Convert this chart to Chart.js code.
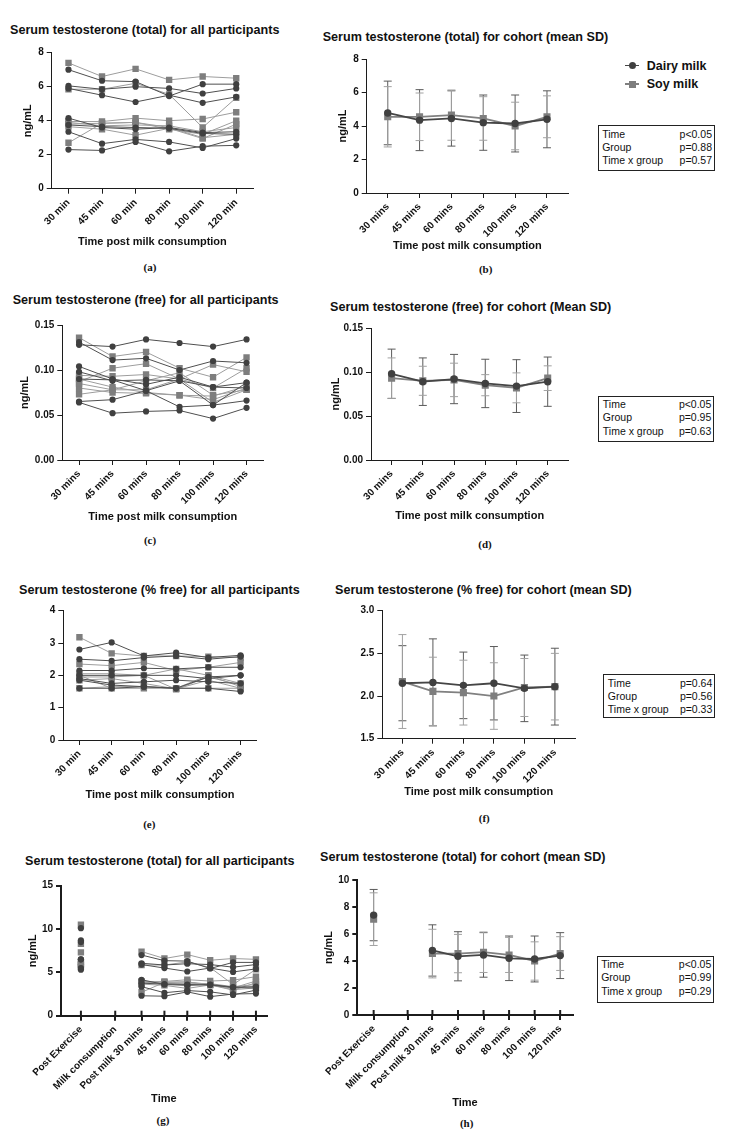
<!DOCTYPE html>
<html>
<head>
<meta charset="utf-8">
<script src="https://cdn.jsdelivr.net/npm/chart.js@4.4.0/dist/chart.umd.min.js"></script>
<style>
  body { margin: 0; background: #fff; }
  #page { position: relative; width: 750px; height: 1135px; overflow: hidden;
          font-family: 'Liberation Sans', Arial, sans-serif; color: #111; }
  #page canvas { position: absolute; }
  .title { position: absolute; font-weight: bold; font-size: 12.6px; line-height: 16px; white-space: nowrap; }
  .cap { position: absolute; width: 40px; margin-left: -20px; text-align: center;
         font-family: 'Liberation Serif', 'Times New Roman', serif; font-weight: bold; font-size: 11px; line-height: 14px; }
  .stats { position: absolute; box-sizing: border-box; border: 1.5px solid #222; padding: 1.5px 2px 0 3.5px; font-size: 10.5px; }
  .stats div { display: flex; justify-content: space-between; line-height: 13.3px; white-space: nowrap; }
  .legText { position: absolute; left: 646.7px; font-weight: bold; font-size: 12.5px; line-height: 16px; }
  .legLine { position: absolute; left: 625px; width: 14.3px; height: 1.6px; }
  .legMark { position: absolute; }
</style>
</head>
<body>
<div id="page"></div>

<script>
// ============================================
// Serum testosterone after dairy / soy milk
// ============================================

// ---------- Tick labels ----------
const labelsMin = ['30 min', '45 min', '60 min', '80 min', '100 min', '120 min'];
const labelsMins = ['30 mins', '45 mins', '60 mins', '80 mins', '100 mins', '120 mins'];
const labelsMixed = ['30 min', '45 min', '60 min', '80 min', '100 mins', '120 mins'];
const labelsFull = ['Post Exercise', 'Milk consumption', 'Post milk 30 mins', '45 mins', '60 mins', '80 mins', '100 mins', '120 mins'];

// x positions of the categories (the last two panels are unevenly spaced)
const posSix = [0, 1, 2, 3, 4, 5];
const posFullG = [0, 1.5, 2.65, 3.65, 4.65, 5.65, 6.65, 7.65];
const posFullH = [0, 1.33, 2.3, 3.3, 4.3, 5.3, 6.3, 7.3];

// ---------- Total testosterone, each participant (ng/mL) ----------
const totalDairy = [
  [7.0, 6.35, 6.3, 5.45, 6.15, 6.15],
  [6.05, 5.85, 6.0, 5.9, 5.6, 5.9],
  [5.9, 5.5, 5.1, 5.5, 5.05, 5.4],
  [4.15, 3.6, 3.5, 3.6, 3.3, 3.35],
  [3.75, 3.65, 3.6, 3.55, 3.25, 3.2],
  [3.35, 2.65, 2.9, 2.75, 2.4, 2.95],
  [2.3, 2.25, 2.75, 2.2, 2.5, 2.55]
];
const totalSoy = [
  [7.4, 6.6, 7.05, 6.4, 6.6, 6.5],
  [5.85, 5.85, 6.2, 5.55, 3.6, 5.35],
  [3.95, 3.95, 4.15, 4.0, 4.1, 4.5],
  [3.9, 3.7, 3.75, 3.7, 3.35, 3.6],
  [3.8, 3.85, 3.9, 3.5, 3.2, 4.0],
  [3.65, 3.5, 3.15, 3.55, 2.95, 3.8],
  [2.7, 3.85, 3.9, 3.6, 3.0, 3.2]
];
const postExDairy = [10.1, 8.7, 8.5, 6.5, 6.5, 5.5, 5.3];
const postExSoy = [10.5, 8.3, 7.3, 6.2, 5.85, 5.6, 6.0];

// ---------- Total testosterone, cohort mean / SD ----------
const totalMeanDairy = [4.78, 4.35, 4.45, 4.2, 4.15, 4.4];
const totalSdDairy = [1.9, 1.82, 1.65, 1.65, 1.7, 1.7];
const totalMeanSoy = [4.55, 4.55, 4.65, 4.45, 4.0, 4.55];
const totalSdSoy = [1.8, 1.42, 1.5, 1.3, 1.42, 1.25];
const postExMean = [7.4, 7.1];   // dairy, soy
const postExSd = [1.9, 1.95];

// ---------- Free testosterone (ng/mL) ----------
const freeDairy = [
  [0.128, 0.126, 0.134, 0.130, 0.126, 0.134],
  [0.131, 0.111, 0.113, 0.100, 0.110, 0.108],
  [0.104, 0.090, 0.084, 0.092, 0.081, 0.086],
  [0.098, 0.088, 0.089, 0.088, 0.081, 0.080],
  [0.090, 0.089, 0.077, 0.059, 0.061, 0.086],
  [0.065, 0.067, 0.077, 0.088, 0.061, 0.066],
  [0.064, 0.052, 0.054, 0.055, 0.046, 0.058]
];
const freeSoy = [
  [0.136, 0.115, 0.120, 0.102, 0.092, 0.114],
  [0.087, 0.102, 0.107, 0.090, 0.106, 0.098],
  [0.094, 0.093, 0.095, 0.090, 0.080, 0.102],
  [0.090, 0.081, 0.075, 0.072, 0.071, 0.082],
  [0.085, 0.078, 0.078, 0.090, 0.064, 0.078],
  [0.080, 0.075, 0.074, 0.072, 0.067, 0.080],
  [0.073, 0.078, 0.088, 0.097, 0.072, 0.078]
];
const freeMeanDairy = [0.098, 0.089, 0.092, 0.087, 0.084, 0.089];
const freeSdDairy = [0.028, 0.027, 0.028, 0.0275, 0.030, 0.028];
const freeMeanSoy = [0.093, 0.090, 0.091, 0.085, 0.082, 0.093];
const freeSdSoy = [0.023, 0.0165, 0.019, 0.012, 0.017, 0.014];

// ---------- % free testosterone ----------
const pctDairy = [
  [2.8, 3.02, 2.6, 2.7, 2.55, 2.62],
  [2.5, 2.45, 2.55, 2.6, 2.5, 2.58],
  [2.15, 2.15, 2.22, 2.2, 2.25, 2.25],
  [2.0, 2.0, 2.0, 2.0, 1.9, 2.0],
  [1.9, 1.75, 1.8, 1.85, 1.8, 1.75],
  [1.85, 1.7, 1.65, 1.6, 1.6, 1.5],
  [1.6, 1.6, 1.65, 1.6, 1.95, 2.0]
];
const pctSoy = [
  [3.18, 2.68, 2.6, 2.6, 2.58, 2.55],
  [2.35, 2.3, 2.4, 2.15, 2.25, 2.4],
  [2.05, 2.05, 2.0, 2.2, 2.0, 1.75],
  [1.95, 1.95, 2.0, 1.57, 1.95, 1.7],
  [2.0, 1.6, 1.6, 1.6, 2.0, 1.65],
  [1.85, 1.9, 1.75, 1.58, 1.85, 1.6],
  [1.6, 1.65, 1.65, 1.6, 1.6, 1.6]
];
const pctMeanDairy = [2.15, 2.16, 2.125, 2.15, 2.09, 2.11];
const pctSdDairy = [0.44, 0.51, 0.39, 0.43, 0.39, 0.45];
const pctMeanSoy = [2.17, 2.055, 2.04, 2.0, 2.1, 2.11];
const pctSdSoy = [0.55, 0.40, 0.38, 0.39, 0.34, 0.39];

// ---------- Statistics boxes ----------
const statsB = [['Time', 'p<0.05'], ['Group', 'p=0.88'], ['Time x group', 'p=0.57']];
const statsD = [['Time', 'p<0.05'], ['Group', 'p=0.95'], ['Time x group', 'p=0.63']];
const statsF = [['Time', 'p=0.64'], ['Group', 'p=0.56'], ['Time x group', 'p=0.33']];
const statsH = [['Time', 'p<0.05'], ['Group', 'p=0.99'], ['Time x group', 'p=0.29']];

// ---------- Styles ----------
Chart.defaults.font.family = "'Liberation Sans', Arial, sans-serif";
Chart.defaults.color = '#111';
const INK = '#1c1c1c';
const DAIRY = { shape: 'circle', fill: '#404040', line: '#4f4f4f', mean: '#454545', bar: '#5a5a5a', r: 3.1, rMean: 3.7 };
const SOY = { shape: 'rect', fill: '#7e7e7e', line: '#9d9d9d', mean: '#808080', bar: '#a2a2a2', r: 4.5, rMean: 5.0 };

// ---------- Dataset helpers ----------
function participantSets(rows, pos, st) {
  return rows.map(row => ({
    data: row.map((v, i) => ({ x: pos[i], y: v })),
    borderColor: st.line,
    borderWidth: 1,
    pointStyle: st.shape,
    pointRadius: st.r,
    pointBackgroundColor: st.fill,
    pointBorderWidth: 0,
    spanGaps: false
  }));
}

function meanSet(means, sds, pos, st) {
  return {
    data: means.map((v, i) => ({ x: pos[i], y: v })),
    sd: sds,
    barColor: st.bar,
    borderColor: st.mean,
    borderWidth: 1.8,
    pointStyle: st.shape,
    pointRadius: st.rMean,
    pointBackgroundColor: st.fill,
    pointBorderWidth: 0,
    spanGaps: false
  };
}

// ---------- Plugins ----------
const errorBars = {
  id: 'errorBars',
  beforeDatasetsDraw(chart) {
    const { ctx, scales: { x, y } } = chart;
    chart.data.datasets.forEach(ds => {
      if (!ds.sd) return;
      ctx.save();
      ctx.strokeStyle = ds.barColor;
      ctx.lineWidth = 1;
      ds.data.forEach((p, j) => {
        if (p.y == null || ds.sd[j] == null) return;
        const px = x.getPixelForValue(p.x);
        const top = y.getPixelForValue(p.y + ds.sd[j]);
        const bot = y.getPixelForValue(p.y - ds.sd[j]);
        ctx.beginPath();
        ctx.moveTo(px, top); ctx.lineTo(px, bot);
        ctx.moveTo(px - 4, top); ctx.lineTo(px + 4, top);
        ctx.moveTo(px - 4, bot); ctx.lineTo(px + 4, bot);
        ctx.stroke();
      });
      ctx.restore();
    });
  }
};

// ticks that cross the x axis (bottom panels)
const crossTicks = {
  id: 'crossTicks',
  afterDraw(chart) {
    const { ctx, scales: { x } } = chart;
    ctx.save();
    ctx.strokeStyle = INK;
    ctx.lineWidth = 2;
    x.ticks.forEach(t => {
      const px = x.getPixelForValue(t.value);
      ctx.beginPath();
      ctx.moveTo(px, x.top - 5);
      ctx.lineTo(px, x.top);
      ctx.stroke();
    });
    ctx.restore();
  }
};

// ---------- Panels ----------
const panels = [
  { box: [0, 40, 295], axis: [51.7, 52.7, 253, 188.7], yTitleX: 28, xTitleY: 241.7,
    labels: labelsMin, pos: posSix, xRange: [-0.5, 5.5], y: [0, 8, 2, 0], xTitle: 'Time post milk consumption',
    datasets: () => [...participantSets(totalDairy, posSix, DAIRY), ...participantSets(totalSoy, posSix, SOY)] },
  { box: [320, 45, 590], axis: [366.7, 59, 568, 193], yTitleX: 343.3, xTitleY: 245.7,
    labels: labelsMins, pos: posSix, xRange: [-0.66, 5.66], y: [0, 8, 2, 0], xTitle: 'Time post milk consumption',
    datasets: () => [meanSet(totalMeanDairy, totalSdDairy, posSix, DAIRY), meanSet(totalMeanSoy, totalSdSoy, posSix, SOY)] },
  { box: [0, 312, 295], axis: [62.3, 325, 263.3, 460], yTitleX: 25, xTitleY: 517,
    labels: labelsMins, pos: posSix, xRange: [-0.5, 5.5], y: [0, 0.15, 0.05, 2], xTitle: 'Time post milk consumption',
    datasets: () => [...participantSets(freeDairy, posSix, DAIRY), ...participantSets(freeSoy, posSix, SOY)] },
  { box: [315, 315, 590], axis: [371, 328, 568.3, 460], yTitleX: 336, xTitleY: 516,
    labels: labelsMins, pos: posSix, xRange: [-0.66, 5.66], y: [0, 0.15, 0.05, 2], xTitle: 'Time post milk consumption',
    datasets: () => [meanSet(freeMeanDairy, freeSdDairy, posSix, DAIRY), meanSet(freeMeanSoy, freeSdSoy, posSix, SOY)] },
  { box: [20, 598, 295], axis: [63.3, 610.7, 256.7, 740], yTitleX: null, xTitleY: 795,
    labels: labelsMixed, pos: posSix, xRange: [-0.5, 5.5], y: [0, 4, 1, 0], xTitle: 'Time post milk consumption',
    datasets: () => [...participantSets(pctDairy, posSix, DAIRY), ...participantSets(pctSoy, posSix, SOY)] },
  { box: [330, 598, 595], axis: [382.3, 610.7, 575, 738.7], yTitleX: null, xTitleY: 792.3,
    labels: labelsMins, pos: posSix, xRange: [-0.66, 5.66], y: [1.5, 3.0, 0.5, 1], xTitle: 'Time post milk consumption',
    datasets: () => [meanSet(pctMeanDairy, pctSdDairy, posSix, DAIRY), meanSet(pctMeanSoy, pctSdSoy, posSix, SOY)] },
  { box: [0, 872, 295], axis: [61, 885.7, 266.7, 1015.7], yTitleX: 33.3, xTitleY: 1099, heavy: true,
    labels: labelsFull, pos: posFullG, xRange: [-0.87, 8.12], y: [0, 15, 5, 0], xTitle: 'Time',
    datasets: () => [
      ...participantSets(totalDairy.map((r, i) => [postExDairy[i], null, ...r]), posFullG, DAIRY),
      ...participantSets(totalSoy.map((r, i) => [postExSoy[i], null, ...r]), posFullG, SOY)] },
  { box: [300, 867, 595], axis: [357.3, 880, 572.7, 1015], yTitleX: 329.3, xTitleY: 1102.7, heavy: true,
    labels: labelsFull, pos: posFullH, xRange: [-0.64, 7.79], y: [0, 10, 2, 0], xTitle: 'Time',
    datasets: () => [
      meanSet([postExMean[0], null, ...totalMeanDairy], [postExSd[0], null, ...totalSdDairy], posFullH, DAIRY),
      meanSet([postExMean[1], null, ...totalMeanSoy], [postExSd[1], null, ...totalSdSoy], posFullH, SOY)] }
];

const HALF_TITLE = 6.6; // half line height of 11px axis titles

function buildPanel(p) {
  const [L, T, R, B] = p.axis;
  const [x0, y0, x1] = p.box;
  const edge = p.xTitleY + HALF_TITLE - y0;
  const w = x1 - x0;
  const h = Math.ceil(edge);
  const padLeft = p.yTitleX ? p.yTitleX - HALF_TITLE - x0 : 0;
  const yWidth = L - x0 - padLeft;
  const xHeight = p.xTitleY + HALF_TITLE - B;
  const lw = p.heavy ? 2 : 1;
  const tickFont = { size: 10, weight: 'bold' };
  const titleFont = { size: 11, weight: 'bold', lineHeight: 1.2 };

  const canvas = document.createElement('canvas');
  canvas.width = w;
  canvas.height = h;
  canvas.style.left = x0 + 'px';
  canvas.style.top = y0 + 'px';
  document.getElementById('page').appendChild(canvas);

  const plugins = [errorBars];
  if (p.heavy) plugins.push(crossTicks);

  new Chart(canvas.getContext('2d'), {
    type: 'line',
    data: { datasets: p.datasets() },
    plugins,
    options: {
      responsive: false,
      animation: false,
      devicePixelRatio: 1,
      layout: { padding: { left: padLeft, top: T - y0, right: x1 - R, bottom: h - edge } },
      plugins: { legend: { display: false }, tooltip: { enabled: false } },
      scales: {
        x: {
          type: 'linear',
          min: p.xRange[0],
          max: p.xRange[1],
          afterBuildTicks: s => { s.ticks = p.pos.map(v => ({ value: v })); },
          ticks: {
            callback: (v, i) => p.labels[i],
            autoSkip: false, minRotation: 45, maxRotation: 45,
            font: tickFont, color: '#111', padding: 3
          },
          grid: { drawOnChartArea: false, drawTicks: true, tickLength: 5, color: INK, lineWidth: lw },
          border: { color: INK, width: lw },
          title: { display: true, text: p.xTitle, font: titleFont, color: '#111', padding: 0 },
          afterFit: s => { s.height = xHeight; s.paddingLeft = 0; s.paddingRight = 0; }
        },
        y: {
          min: p.y[0],
          max: p.y[1],
          ticks: {
            stepSize: p.y[2],
            callback: v => v.toFixed(p.y[3]),
            font: tickFont, color: '#111', padding: 3
          },
          grid: { drawOnChartArea: false, drawTicks: true, tickLength: 5, color: INK, lineWidth: lw },
          border: { color: INK, width: lw },
          title: { display: !!p.yTitleX, text: 'ng/mL', font: titleFont, color: '#111', padding: 0 },
          afterFit: s => { s.width = yWidth; s.paddingTop = 0; s.paddingBottom = 0; }
        }
      }
    }
  });
}

panels.forEach(buildPanel);

// ---------- Text: titles, captions, legend, stats ----------
const page = document.getElementById('page');
function addDiv(cls, html, style) {
  const d = document.createElement('div');
  d.className = cls;
  d.innerHTML = html;
  Object.assign(d.style, style);
  page.appendChild(d);
  return d;
}

const titles = [
  ['Serum testosterone (total) for all participants', 10, 30],
  ['Serum testosterone (total) for cohort (mean SD)', 322.7, 37.3],
  ['Serum testosterone (free) for all participants', 12.7, 300],
  ['Serum testosterone (free) for cohort (Mean SD)', 330, 306.7],
  ['Serum testosterone (% free) for all participants', 19, 590],
  ['Serum testosterone (% free) for cohort (mean SD)', 335, 590],
  ['Serum testosterone (total) for all participants', 25, 860.7],
  ['Serum testosterone (total) for cohort (mean SD)', 320, 857.3]
];
titles.forEach(([t, x, cy]) => addDiv('title', t, { left: x + 'px', top: (cy - 8) + 'px' }));

const captions = [
  ['(a)', 150, 266.7], ['(b)', 485.7, 269.3],
  ['(c)', 150, 540], ['(d)', 485, 544],
  ['(e)', 149.3, 824], ['(f)', 484.3, 817.7],
  ['(g)', 163, 1120], ['(h)', 466.7, 1122.7]
];
captions.forEach(([t, x, cy]) => addDiv('cap', t, { left: x + 'px', top: (cy - 7) + 'px' }));

// legend (next to panel b)
[[DAIRY, 'Dairy milk', 65.7], [SOY, 'Soy milk', 84]].forEach(([st, name, cy]) => {
  addDiv('legLine', '', { top: (cy - 0.8) + 'px', background: st.mean });
  const size = st.shape === 'circle' ? 7 : 7;
  addDiv('legMark', '', {
    left: (632 - size / 2) + 'px', top: (cy - size / 2) + 'px',
    width: size + 'px', height: size + 'px', background: st.fill,
    borderRadius: st.shape === 'circle' ? '50%' : '0'
  });
  addDiv('legText', name, { top: (cy - 8) + 'px' });
});

const statBoxes = [
  [statsB, 597.7, 125.3, 117.3, 46],
  [statsD, 598.3, 395.7, 116, 46.6],
  [statsF, 603.3, 674, 112, 44.3],
  [statsH, 596.7, 955.7, 117.6, 47]
];
statBoxes.forEach(([rows, x, y, w, h]) => {
  const html = rows.map(r => `<div><span>${r[0]}</span><span>${r[1]}</span></div>`).join('');
  addDiv('stats', html, { left: x + 'px', top: y + 'px', width: w + 'px', height: h + 'px' });
});
</script>
</body>
</html>
